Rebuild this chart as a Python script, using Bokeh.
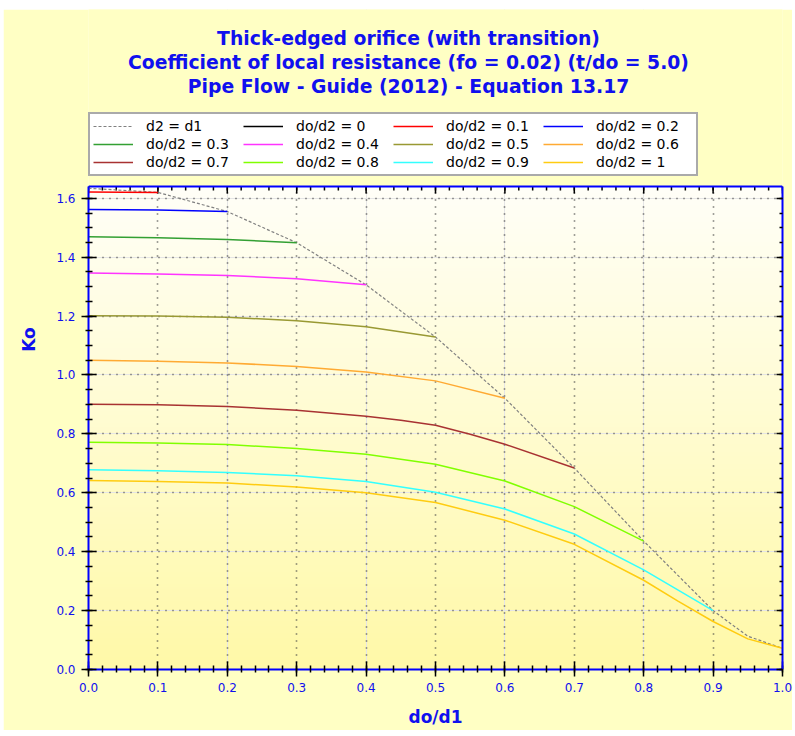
import numpy as np
from bokeh.plotting import figure
from bokeh.models import (LinearAxis, Range1d, Legend, LegendItem, Label, Grid,
                          SingleIntervalTicker, NumeralTickFormatter, CustomJSTickFormatter)
from bokeh.embed import file_html
from bokeh.resources import INLINE

# ---------------- data ----------------
x_d2d1 = [0.0, 0.1, 0.2, 0.3, 0.4, 0.5, 0.6, 0.7, 0.8, 0.9, 0.95, 1.0]
k_d2d1 = [1.634, 1.620, 1.555, 1.449, 1.306, 1.129, 0.921, 0.684, 0.436, 0.200, 0.113, 0.072]

x_r00 = [0.0]
k_r00 = [1.634]
x_r01 = [0.0, 0.1]
k_r01 = [1.621, 1.620]
x_r02 = [0.0, 0.1, 0.2]
k_r02 = [1.562, 1.560, 1.555]
x_r03 = [0.0, 0.1, 0.2, 0.3]
k_r03 = [1.469, 1.466, 1.460, 1.449]
x_r04 = [0.0, 0.1, 0.2, 0.3, 0.4]
k_r04 = [1.346, 1.343, 1.338, 1.327, 1.306]
x_r05 = [0.0, 0.1, 0.2, 0.3, 0.4, 0.5]
k_r05 = [1.201, 1.200, 1.196, 1.184, 1.164, 1.129]
x_r06 = [0.0, 0.1, 0.2, 0.3, 0.4, 0.5, 0.6]
k_r06 = [1.050, 1.047, 1.041, 1.029, 1.010, 0.980, 0.921]
x_r07 = [0.0, 0.1, 0.2, 0.3, 0.4, 0.45, 0.5, 0.55, 0.6, 0.7]
k_r07 = [0.901, 0.899, 0.893, 0.880, 0.860, 0.846, 0.829, 0.799, 0.765, 0.684]
x_r08 = [0.0, 0.1, 0.2, 0.3, 0.4, 0.5, 0.6, 0.7, 0.8]
k_r08 = [0.772, 0.769, 0.764, 0.750, 0.731, 0.697, 0.640, 0.553, 0.436]
x_r09 = [0.0, 0.1, 0.2, 0.3, 0.4, 0.5, 0.6, 0.7, 0.8, 0.9]
k_r09 = [0.678, 0.675, 0.669, 0.658, 0.638, 0.602, 0.545, 0.460, 0.338, 0.200]
x_r10 = [0.0, 0.1, 0.2, 0.3, 0.4, 0.5, 0.6, 0.7, 0.8, 0.85, 0.9, 0.95, 1.0]
k_r10 = [0.642, 0.638, 0.633, 0.620, 0.600, 0.567, 0.507, 0.425, 0.303, 0.231, 0.163, 0.104, 0.072]

series_labels = ["do/d2 = 0", "do/d2 = 0.1", "do/d2 = 0.2", "do/d2 = 0.3",
                 "do/d2 = 0.4", "do/d2 = 0.5", "do/d2 = 0.6", "do/d2 = 0.7",
                 "do/d2 = 0.8", "do/d2 = 0.9", "do/d2 = 1"]
series_x = [x_r00, x_r01, x_r02, x_r03, x_r04, x_r05, x_r06, x_r07, x_r08, x_r09, x_r10]
series_k = [k_r00, k_r01, k_r02, k_r03, k_r04, k_r05, k_r06, k_r07, k_r08, k_r09, k_r10]
series_colors = ["#000000", "#FF0000", "#0000FF", "#33A033", "#FF33FF", "#999933",
                 "#FFAA33", "#A83232", "#80FF00", "#33FFFF", "#FFCC11"]

title_lines = ["Thick-edged orifice (with transition)",
               "Coefficient of local resistance (fo = 0.02) (t/do = 5.0)",
               "Pipe Flow - Guide (2012) - Equation 13.17"]
x_title = "do/d1"
y_title = "Ko"

# ---------------- layout constants ----------------
BLUE = "#1010EE"
FONT = "DejaVu Sans"
BG = "#FFFFC4"
K_TOP = 1.64            # upper edge of the data area
DATA_PX = 483           # height of the data area in px
FRAME_PX = 660          # frame also holds title + legend above the data area
Y_END = K_TOP * FRAME_PX / DATA_PX
PX = K_TOP / DATA_PX    # one pixel in data units (y)

p = figure(width=789, height=721, output_backend="svg", toolbar_location=None,
           x_range=Range1d(0, 1.0), y_range=Range1d(0, Y_END),
           x_axis_location=None, y_axis_location=None,
           min_border_left=85, min_border_right=10, min_border_top=0, min_border_bottom=61,
           border_fill_color=BG, background_fill_color=BG,
           outline_line_color=None, margin=(9, 3, 6, 3))

# vertical gradient background of the data area
n = 200
img = np.empty((n, 1, 4), dtype=np.uint8)
t = np.linspace(0, 1, n)
top = np.array([255, 255, 248])
bot = np.array([255, 249, 168])
for i in range(n):
    c = bot + (top - bot) * t[i]
    img[i, 0, :3] = c.astype(np.uint8)
    img[i, 0, 3] = 255
p.image_rgba(image=[img.view(np.uint32).reshape(n, 1)], x=0, y=0, dw=1.0, dh=K_TOP, level="image")

xt = SingleIntervalTicker(interval=0.1, num_minor_ticks=5)
yt = SingleIntervalTicker(interval=0.2, num_minor_ticks=4)


def style_axis(ax):
    ax.axis_line_color = "#0000FF"
    ax.axis_line_width = 2
    ax.major_tick_line_color = "#000000"
    ax.minor_tick_line_color = "#000000"
    ax.major_tick_line_width = 1.5
    ax.minor_tick_line_width = 1.5
    ax.formatter = NumeralTickFormatter(format="0.0")
    ax.major_label_text_font = FONT
    ax.major_label_text_font_size = "12px"
    ax.major_label_text_color = BLUE
    ax.axis_label_text_font = FONT
    ax.axis_label_text_font_size = "17px"
    ax.axis_label_text_font_style = "bold"
    ax.axis_label_text_color = BLUE


xb = LinearAxis(ticker=xt, axis_label=x_title)
style_axis(xb)
xb.major_tick_out = 7
xb.major_tick_in = 8
xb.minor_tick_out = 3
xb.minor_tick_in = 4
xb.major_label_standoff = 6
xb.axis_label_standoff = 12
p.add_layout(xb, "below")

yl = LinearAxis(ticker=yt, axis_label=y_title, bounds=(0, K_TOP))
style_axis(yl)
yl.major_tick_out = 7
yl.major_tick_in = 8
yl.minor_tick_out = 3
yl.minor_tick_in = 4
yl.major_label_standoff = 6
yl.axis_label_standoff = 14
p.add_layout(yl, "left")

yr = LinearAxis(ticker=yt, bounds=(0, K_TOP))
style_axis(yr)
yr.formatter = CustomJSTickFormatter(code="return ''")
yr.major_label_standoff = 0
yr.major_tick_out = 0
yr.major_tick_in = 6
yr.minor_tick_out = 0
yr.minor_tick_in = 3
p.add_layout(yr, "right")

gx = Grid(dimension=0, ticker=xt, grid_line_color="#404040", grid_line_dash="1 6", grid_line_width=1.6)
gy = Grid(dimension=1, ticker=yt, grid_line_color="#404040", grid_line_dash="1 6", grid_line_width=1.6,
          bounds=(0, K_TOP))
p.add_layout(gx)
p.add_layout(gy)

# hide the grid above the data area
p.quad(left=0, right=1, bottom=K_TOP, top=Y_END, fill_color=BG, line_color=None)

# top border of the data area with inward ticks
minor_x = np.round(np.arange(0, 1.0001, 0.02), 2)
major_x = np.round(np.arange(0, 1.0001, 0.1), 1)
p.segment(x0=minor_x, y0=K_TOP, x1=minor_x, y1=K_TOP - 4 * PX, line_color="#000000", line_width=1.5)
p.segment(x0=major_x, y0=K_TOP, x1=major_x, y1=K_TOP - 7 * PX, line_color="#000000", line_width=1.5)
p.segment(x0=0, y0=K_TOP, x1=1, y1=K_TOP, line_color="#0000FF", line_width=2)

items = []
r = p.line(x_d2d1, k_d2d1, line_color="#808080", line_width=1.2, line_dash="3 2")
items.append(LegendItem(label="d2 = d1", renderers=[r]))
for lab, xs, ks, col in zip(series_labels, series_x, series_k, series_colors):
    r = p.line(xs, ks, line_color=col, line_width=1.5)
    items.append(LegendItem(label=lab, renderers=[r]))

# legend fills column by column: reorder so that rows read left to right
ordered = [items[r * 4 + c] for c in range(4) for r in range(3)]
legend = Legend(items=ordered, ncols=4, location=(0, DATA_PX + 10),
                label_text_font=FONT, label_text_font_size="14px", label_text_color="#000000",
                glyph_width=40, glyph_height=12, label_height=18, label_width=97, label_standoff=13,
                spacing=0, padding=3, margin=0,
                border_line_color="#555555", border_line_width=2,
                background_fill_color="#FFFFFF", background_fill_alpha=1.0)
p.add_layout(legend, "center")

# title lines, in screen px from the frame's bottom-left corner
title_y = [DATA_PX + 148, DATA_PX + 124, DATA_PX + 100]
for line, ty in zip(title_lines, title_y):
    p.add_layout(Label(x=320, y=ty, x_units="screen", y_units="screen", text=line,
                       text_align="center", text_baseline="middle",
                       text_font=FONT, text_font_size="18.8px", text_font_style="bold",
                       text_color=BLUE))

open("out.html", "w").write(file_html(p, INLINE))
